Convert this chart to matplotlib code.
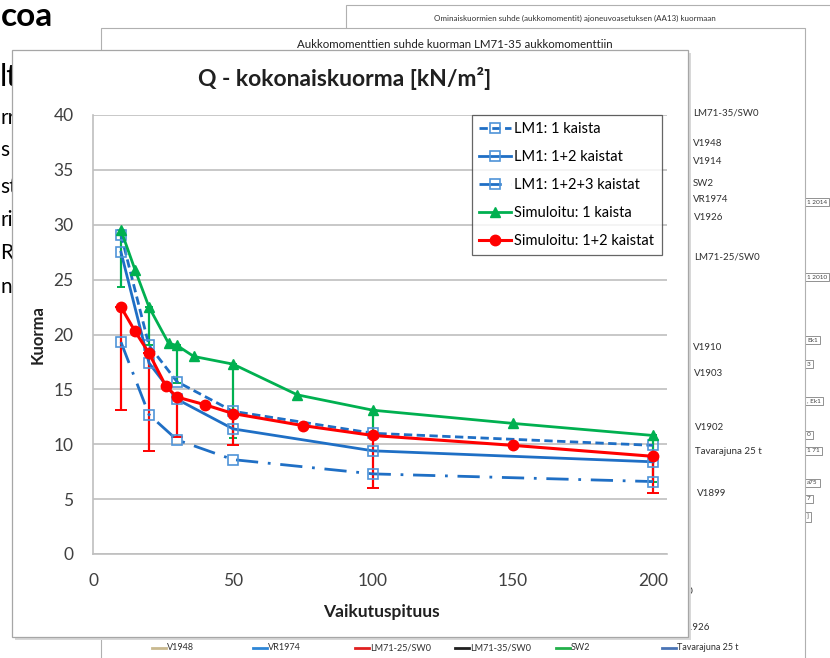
import matplotlib
matplotlib.use("Agg")
import matplotlib.pyplot as plt
from matplotlib.patches import Rectangle
from matplotlib.lines import Line2D

plt.rcParams['font.family'] = ['Lato', 'DejaVu Sans']

# --- data ---
lm1_x = [10, 20, 30, 50, 100, 200]
lm1_1 = [29.1, 19.0, 15.7, 13.0, 11.0, 9.9]
lm1_12 = [27.5, 17.4, 14.1, 11.4, 9.4, 8.4]
lm1_123 = [19.3, 12.7, 10.4, 8.6, 7.3, 6.6]

sim1_x = [10, 15, 20, 27, 30, 36, 50, 73, 100, 150, 200]
sim1_y = [29.5, 25.9, 22.5, 19.2, 19.0, 18.0, 17.3, 14.5, 13.1, 11.9, 10.8]

sim12_x = [10, 15, 20, 26, 30, 40, 50, 75, 100, 150, 200]
sim12_y = [22.5, 20.3, 18.3, 15.3, 14.3, 13.6, 12.8, 11.7, 10.8, 9.9, 8.9]

err_x = [10, 20, 30, 50, 100, 200]
sim1_at_err = [29.5, 22.5, 19.0, 17.3, 13.1, 10.8]
sim1_low = [24.3, 19.0, 15.6, 10.6, 11.0, 6.6]
sim12_at_err = [22.5, 18.3, 14.3, 12.8, 10.8, 8.9]
sim12_low = [13.1, 9.4, 10.7, 9.9, 6.0, 5.6]

labels = ['LM1: 1 kaista', 'LM1: 1+2 kaistat', 'LM1: 1+2+3 kaistat',
          'Simuloitu: 1 kaista', 'Simuloitu: 1+2 kaistat']

# background slide texts
right_labels = [('LM71-35/SW0', 693, 113), ('V1948', 693, 144), ('V1914', 693, 162),
                ('SW2', 693, 184), ('VR1974', 693, 199), ('V1926', 694, 217),
                ('LM71-25/SW0', 694, 257), ('V1910', 693, 347), ('V1903', 694, 374),
                ('V1902', 695, 427), ('Tavarajuna 25 t', 695, 451), ('V1899', 697, 493)]
bottom_legend = [('V1948', '#c9b98f', 152), ('VR1974', '#2e86d6', 253),
                 ('LM71-25/SW0', '#e02020', 355), ('LM71-35/SW0', '#202020', 455),
                 ('SW2', '#22b04a', 556), ('Tavarajuna 25 t', '#4a74b5', 662)]
edge_boxes = [('1 2014', 202), ('1 2010', 277), ('Ek1', 340), ('3', 364), (', Ek1', 401),
              ('0', 435), ('1 71', 451), ('a75', 483), ('7', 499), (']', 517)]
left_bits = [('rr', 118), ('s', 150), ('st', 187), ('ri', 220), ('R', 253), ('n', 287)]

W, H = 830, 658
def fx(px):
    return px / W
def fy(py):
    return 1 - py / H

fig = plt.figure(figsize=(8.3, 6.58), dpi=100)
tf = fig.transFigure

# background slides
fig.add_artist(Rectangle((fx(346), fy(700)), fx(600), (700 - 5) / H, transform=tf,
                         facecolor='white', edgecolor='#b0b0b0', lw=0.8, zorder=0.5))
fig.text(fx(575), fy(18), 'Ominaiskuormien suhde (aukkomomentit) ajoneuvoasetuksen (AA13) kuormaan',
         ha='center', va='center', fontsize=5.8, color='#303030', zorder=0.6)
fig.add_artist(Rectangle((fx(101), fy(700)), fx(805 - 101), (700 - 28) / H, transform=tf,
                         facecolor='white', edgecolor='#b0b0b0', lw=0.8, zorder=0.7))
fig.text(fx(455), fy(44), 'Aukkomomenttien suhde kuorman LM71-35 aukkomomenttiin',
         ha='center', va='center', fontsize=8.3, color='#202020', zorder=0.8)
for txt, x, y in right_labels:
    fig.text(fx(x), fy(y), txt, ha='left', va='center', fontsize=7, color='#303030', zorder=0.8)
fig.text(fx(681), fy(627), 'V1926', ha='left', va='center', fontsize=7, color='#303030', zorder=0.8)
fig.text(fx(693), fy(592), '200', ha='right', va='center', fontsize=7, color='#303030', zorder=0.8)
for txt, col, x in bottom_legend:
    fig.add_artist(Line2D([fx(x), fx(x + 14)], [fy(648), fy(648)], transform=tf,
                          color=col, lw=2, zorder=0.8))
    fig.text(fx(x + 15), fy(648), txt, ha='left', va='center', fontsize=6.5,
             color='#303030', zorder=0.8)
for txt, y in edge_boxes:
    fig.text(fx(807), fy(y), txt, ha='left', va='center', fontsize=4.6, color='#404040',
             zorder=0.6, bbox=dict(boxstyle='square,pad=0.3', fc='white', ec='#808080', lw=0.6))

fig.text(fx(1), fy(26), 'coa', ha='left', va='baseline', fontsize=24,
         fontweight='bold', color='black', zorder=0.4)
fig.text(fx(0), fy(86), 'lt', ha='left', va='baseline', fontsize=22, color='black', zorder=0.4)
for txt, y in left_bits:
    fig.text(fx(0), fy(y), txt, ha='left', va='center', fontsize=15, color='black', zorder=0.4)

# front chart panel with a small shadow
fig.add_artist(Rectangle((fx(15), fy(640)), fx(688 - 12), (640 - 53) / H, transform=tf,
                         facecolor='#d8d8d8', edgecolor='none', zorder=2.9))
fig.add_artist(Rectangle((fx(12), fy(637)), fx(688 - 12), (637 - 50) / H, transform=tf,
                         facecolor='white', edgecolor='#a6a6a6', lw=0.9, zorder=3))

ax = fig.add_axes([fx(93), fy(554), fx(667 - 93), (554 - 115) / H], zorder=5)
ax.set_facecolor('none')

blue = '#1f6fc5'
mblue = '#4f94d8'
ax.errorbar(err_x, sim1_at_err, yerr=[[a - b for a, b in zip(sim1_at_err, sim1_low)],
                                       [0] * len(err_x)],
            fmt='none', ecolor='#00b050', elinewidth=1.6, capsize=3, capthick=1.4, zorder=3)
ax.errorbar(err_x, sim12_at_err, yerr=[[a - b for a, b in zip(sim12_at_err, sim12_low)],
                                        [0] * len(err_x)],
            fmt='none', ecolor='#ff0000', elinewidth=1.6, capsize=4, capthick=1.4, zorder=3)

ax.plot(lm1_x, lm1_1, color=blue, lw=2, dashes=(3, 1.6), marker='s', ms=7.5,
        mfc='none', mec=mblue, mew=1.2, label=labels[0], zorder=4)
ax.plot(lm1_x, lm1_12, color=blue, lw=2, marker='s', ms=7.5,
        mfc='none', mec=mblue, mew=1.2, label=labels[1], zorder=4)
ax.plot(lm1_x, lm1_123, color=blue, lw=2, dashes=(8, 3.5, 1, 3.5), marker='s', ms=7.5,
        mfc='none', mec=mblue, mew=1.2, label=labels[2], zorder=4)
ax.plot(sim1_x, sim1_y, color='#00b050', lw=2, marker='^', ms=7,
        label=labels[3], zorder=5)
ax.plot(sim12_x, sim12_y, color='#ff0000', lw=2.2, marker='o', ms=7.5,
        label=labels[4], zorder=6)

ax.set_xlim(0, 205)
ax.set_ylim(0, 40)
ax.set_xticks([0, 50, 100, 150, 200])
ax.set_yticks(range(0, 41, 5))
ax.tick_params(length=0, labelsize=12.5, labelcolor='#404040', pad=14)
ax.grid(axis='y', color='#bfbfbf', lw=1.2)
ax.set_axisbelow(True)
for s in ['top', 'right']:
    ax.spines[s].set_visible(False)
for s in ['left', 'bottom']:
    ax.spines[s].set_color('#bfbfbf')
    ax.spines[s].set_linewidth(1.2)

leg = ax.legend(loc='upper left', bbox_to_anchor=(fx(472), fy(115)), bbox_transform=tf,
                fontsize=10.5, frameon=True, fancybox=False, handlelength=2.2,
                handletextpad=0.2, labelspacing=0.95, borderpad=0.5, borderaxespad=0)
leg.get_frame().set_edgecolor('#404040')
leg.get_frame().set_linewidth(0.9)
leg.set_zorder(10)

fig.text(fx(345), fy(78), 'Q - kokonaiskuorma [kN/m²]', ha='center', va='center',
         fontsize=16.5, fontweight='bold', color='#202020', zorder=6)
fig.text(fx(38), fy(335), 'Kuorma', ha='center', va='center', rotation=90,
         fontsize=12, fontweight='bold', color='#202020', zorder=6)
fig.text(fx(381), fy(612), 'Vaikutuspituus', ha='center', va='center',
         fontsize=12.5, fontweight='bold', color='#202020', zorder=6)

fig.savefig('out.png', dpi=100)
